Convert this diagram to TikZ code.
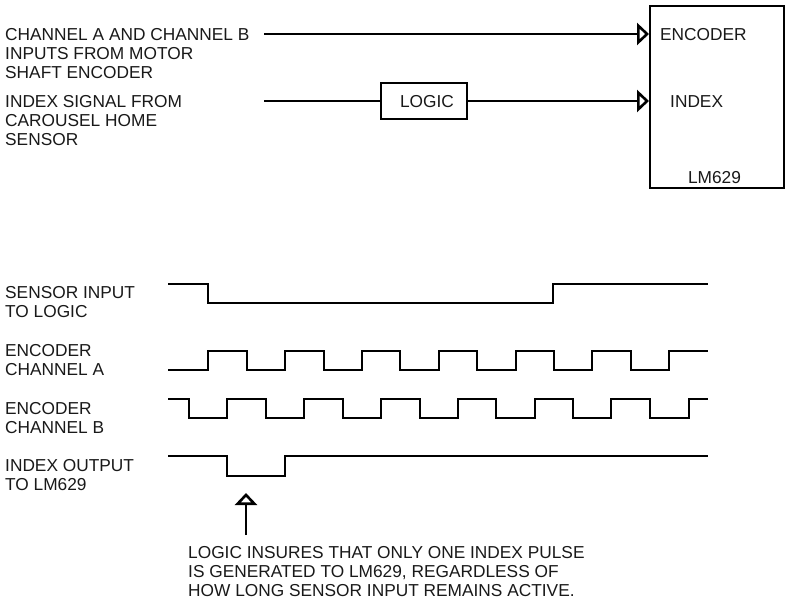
\documentclass[tikz,border=0pt]{standalone}
\usepackage{fontspec}
\setmainfont{Liberation Sans}
\usetikzlibrary{arrows.meta}
\tikzset{
  lbl/.style={anchor=west,inner sep=0pt,align=left,font=\fontsize{17.3}{19}\selectfont,text=black!90},
  tx/.style={inner sep=0pt,font=\fontsize{17.3}{19}\selectfont,text=black!90},
  wire/.style={line width=2pt},
  wave/.style={line width=2pt,line join=miter},
  blockbox/.style={draw,line width=2pt,inner sep=0pt},
  intip/.style={wire,-{Triangle[open,length=12pt,width=22pt,line width=2.6pt]}},
  uptip/.style={line width=1.7pt,-{Triangle[open,length=12pt,width=22pt,line width=2.6pt]}}
}
\begin{document}
\begin{tikzpicture}[x=1pt,y=-1pt]
\useasboundingbox[fill=white] (0,0) rectangle (785,605);
% top block diagram
\node[blockbox,minimum width=134pt,minimum height=182pt] (lm) at (717,97) {};
\node[blockbox,minimum width=86pt,minimum height=36pt] (logic) at (424,101) {};
\node[tx] at (427,101.5) {LOGIC};
\node[tx,anchor=west] at (660,34.5) {ENCODER};
\node[tx,anchor=west] at (670,101.5) {INDEX};
\node[tx] at (714.5,178) {LM629};
\coordinate (encin) at (264,34);
\coordinate (idxin) at (264,101);
\coordinate (encpin) at (lm.west |- encin);
\coordinate (idxpin) at (lm.west |- idxin);
\draw[intip] (encin) -- (encpin);
\draw[wire] (idxin) -- (logic.west);
\draw[intip] (logic.east) -- (idxpin);
\node[lbl] at (5,53.5) {CHANNEL A AND CHANNEL B\\INPUTS FROM MOTOR\\SHAFT ENCODER};
\node[lbl] at (5,120.5) {INDEX SIGNAL FROM\\CAROUSEL HOME\\SENSOR};
% timing labels
\node[lbl] at (5,302.5) {SENSOR INPUT\\TO LOGIC};
\node[lbl] at (5,360.5) {ENCODER\\CHANNEL A};
\node[lbl] at (5,418) {ENCODER\\CHANNEL B};
\node[lbl] at (5,475.5) {INDEX OUTPUT\\TO LM629};
% waveforms
\draw[wave] (168,284) -| (208,303) -| (553,284) -- (708,284);
\draw[wave] (168,370) -| (208,351) -| (247,370) -| (285,351) -| (323.5,370) -| (362,351) -| (400,370) -| (439,351) -| (477,370) -| (516,351) -| (554,370) -| (592,351) -| (631,370) -| (669,351) -- (708,351);
\draw[wave] (168,399) -| (189,418) -| (227,399) -| (266,418) -| (304,399) -| (343,418) -| (381,399) -| (420,418) -| (458,399) -| (496,418) -| (534.5,399) -| (573,418) -| (611,399) -| (650,418) -| (689,399) -- (708,399);
\draw[wave] (168,456) -| (227,476) -| (285,456) -- (708,456);
% annotation
\node[lbl] (note) at (188,571.5) {LOGIC INSURES THAT ONLY ONE INDEX PULSE\\IS GENERATED TO LM629, REGARDLESS OF\\HOW LONG SENSOR INPUT REMAINS ACTIVE.};
\coordinate (pulse) at (246,493);
\coordinate (notetop) at (246,535);
\draw[uptip] (notetop) -- (pulse);
\end{tikzpicture}
\end{document}
